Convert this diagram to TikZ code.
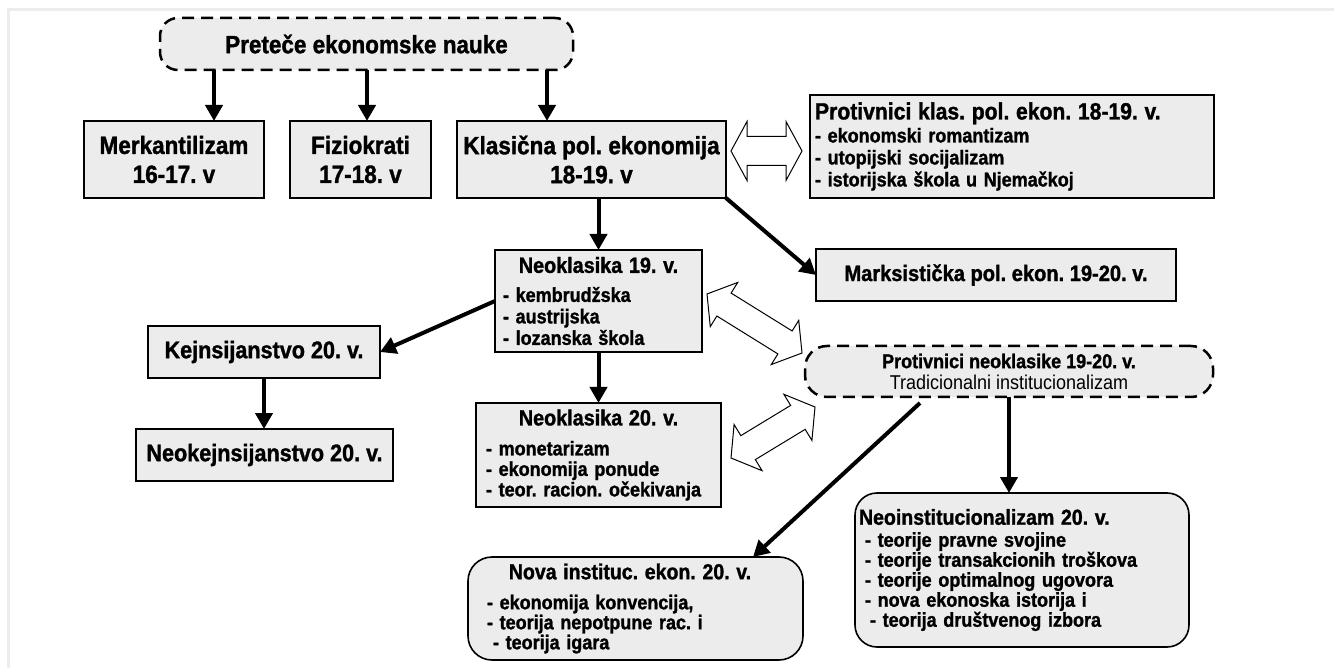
\documentclass[tikz,border=0pt]{standalone}
\usepackage{fontspec}
\setmainfont{Liberation Sans}[FakeStretch=0.9, BoldFeatures={FakeBold=1.3}]
\usetikzlibrary{arrows.meta,calc}
\definecolor{boxgray}{HTML}{ECECEC}
\definecolor{framegray}{HTML}{EDEDED}
\newcommand\hdarrow[5]{%
  \draw[hollow] (#1) -- ($(#1)!#3!(#2)!#4!90:(#2)$) -- ($(#1)!#3!(#2)!#5!90:(#2)$)
   -- ($(#2)!#3!(#1)!#5!90:(#2)$) -- ($(#2)!#3!(#1)!#4!90:(#2)$) -- (#2)
   -- ($(#2)!#3!(#1)!#4!-90:(#2)$) -- ($(#2)!#3!(#1)!#5!-90:(#2)$)
   -- ($(#1)!#3!(#2)!#5!-90:(#2)$) -- ($(#1)!#3!(#2)!#4!-90:(#2)$) -- cycle;}
\begin{document}
\frenchspacing
\begin{tikzpicture}[x=1pt,y=-1pt,
  box/.style={draw=black, line width=1.6pt, fill=boxgray, inner sep=0pt, outer sep=0pt},
  dashbox/.style={box, line width=2.5pt, dash pattern=on 12pt off 7pt, rounded corners=18pt},
  roundbox/.style={box, rounded corners=#1},
  topfont/.style={font=\fontsize{25}{29}\selectfont\bfseries, align=center},
  listfont/.style={font=\fontsize{20}{#1}\selectfont\bfseries},
  arr/.style={line width=4pt, -{Triangle[width=17pt,length=16pt]}},
  hollow/.style={draw=black, line width=1pt, fill=white, line join=miter}]
\useasboundingbox (0,0) rectangle (1334,668);
\draw[framegray, line width=3pt] (8.5,668) -- (8.5,9.5) -- (1334,9.5);

% top row
\node[dashbox, minimum width=413pt, minimum height=52pt, topfont] (pre) at (366.5,44) {Preteče ekonomske nauke};
\node[box, minimum width=180pt, minimum height=77pt, topfont] (merk) at (174,159.5) {Merkantilizam\\16-17. v};
\node[box, minimum width=141pt, minimum height=77pt, topfont] (fizi) at (360.5,159.5) {Fiziokrati\\17-18. v};
\node[box, minimum width=269pt, minimum height=77pt, topfont] (klas) at (591.5,159.5) {Klasična pol. ekonomija\\18-19. v};

\node[box, minimum height=103pt, text width=394pt, inner xsep=5pt, align=left, listfont=22] (protk) at (1012,146.5)
  {{\fontsize{23.5}{22}\selectfont Protivnici klas. pol. ekon. 18-19. v.}\\[1pt]
   - ekonomski romantizam\\- utopijski socijalizam\\- istorijska škola u Njemačkoj};

\node[box, minimum height=102pt, text width=191pt, inner xsep=8pt, align=left, listfont=21.5] (n19) at (598.5,301)
  {\makebox[\hsize]{\fontsize{22}{22}\selectfont Neoklasika 19. v.}\\[7.5pt]
   - kembrudžska\\- austrijska\\- lozanska škola};

\node[box, minimum width=360pt, minimum height=52pt, font=\fontsize{22.3}{26}\selectfont\bfseries] (marks) at (996,275) {Marksistička pol. ekon. 19-20. v.};

\node[box, minimum width=232pt, minimum height=52pt, font=\fontsize{24}{28}\selectfont\bfseries] (kejn) at (264,352) {Kejnsijanstvo 20. v.};
\node[box, minimum width=257pt, minimum height=52pt, font=\fontsize{24}{28}\selectfont\bfseries] (neok) at (264.5,455) {Neokejnsijanstvo 20. v.};

\node[box, minimum height=104pt, text width=225pt, inner xsep=10pt, align=left, listfont=20.5] (n20) at (598.5,455)
  {\makebox[\hsize]{\fontsize{22}{22}\selectfont Neoklasika 20. v.}\\[9.5pt]
   - monetarizam\\- ekonomija ponude\\- teor. racion. očekivanja};

\node[dashbox, rounded corners=22pt, minimum width=408pt, minimum height=51pt, align=center, font=\fontsize{20}{21}\selectfont] (protn) at (1009,371.5)
  {{\bfseries Protivnici neoklasike 19-20. v.}\\Tradicionalni institucionalizam};

\node[roundbox=24pt, minimum height=103pt, text width=297pt, inner xsep=19pt, align=left, listfont=20] (nova) at (635.5,608.5)
  {\makebox[\hsize]{\fontsize{21.7}{22}\selectfont Nova instituc. ekon. 20. v.\hspace{11pt}}\\[10pt]
   - ekonomija konvencija,\\- teorija nepotpune rac. i\\\hspace*{6pt}- teorija igara};

\node[roundbox=22pt, minimum height=154pt, text width=326pt, inner xsep=4pt, align=left, listfont=20] (neoi) at (1022,570)
  {{\fontsize{21.7}{22}\selectfont Neoinstitucionalizam 20. v.}\\[2pt]
   \hspace*{6pt}- teorije pravne svojine\\\hspace*{6pt}- teorije transakcionih troškova\\
   \hspace*{6pt}- teorije optimalnog ugovora\\\hspace*{6pt}- nova ekonoska istorija i\\
   \hspace*{11pt}- teorija društvenog izbora};

% connectors
\draw[arr] ([xshift=54pt]pre.south west) -- ([xshift=130pt]merk.north west);
\draw[arr] ([xshift=207pt]pre.south west) -- ([xshift=77pt]fizi.north west);
\draw[arr] ([xshift=387pt]pre.south west) -- ([xshift=90pt]klas.north west);
\draw[arr] (klas.south -| n19.north) -- (n19.north);
\draw[arr] (klas.south east) -- (marks.west);
\draw[arr] (n19.west) -- (kejn.east);
\draw[arr] (kejn.south) -- (kejn.south |- neok.north);
\draw[arr] (n19.south) -- (n20.north);
\draw[arr] (protn.south) -- (protn.south |- neoi.north);
\draw[arr] ([shift={(115pt,-6pt)}]protn.south west) -- ([xshift=-50pt]nova.north east);

% hollow double arrows
\coordinate (h1a) at ([shift={(5pt,8.5pt)}]klas.east);
\coordinate (h1b) at ([shift={(-8pt,-4.5pt)}]protk.west);
\hdarrow{h1a}{h1b}{16pt}{29.5pt}{14.5pt}
\coordinate (h2a) at ([shift={(5pt,7pt)}]n19.east);
\coordinate (h2b) at ([shift={(-3pt,18.5pt)}]protn.west);
\hdarrow{h2a}{h2b}{20pt}{26pt}{13.5pt}
\coordinate (h3a) at ([shift={(10pt,-3pt)}]n20.east);
\coordinate (h3b) at ([shift={(10pt,-35.5pt)}]protn.west);
\hdarrow{h3a}{h3b}{20pt}{27pt}{14pt}
\end{tikzpicture}
\end{document}
